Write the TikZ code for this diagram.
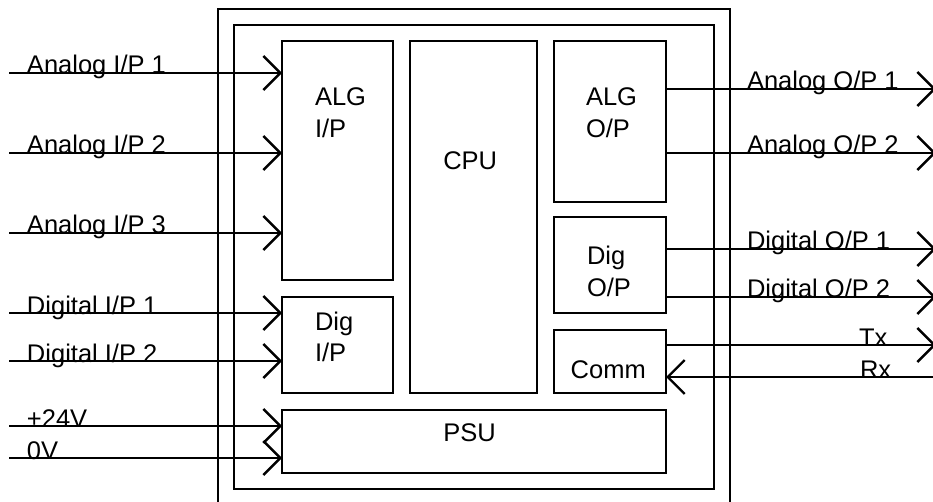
\documentclass[tikz,border=0pt]{standalone}
\usepackage{fontspec}
\setmainfont{Liberation Sans}
\usetikzlibrary{arrows.meta}
\begin{document}
\begin{tikzpicture}[x=1pt,y=-1pt,
  blk/.style={draw, line width=2.4pt, inner sep=0pt, outer sep=0pt, rectangle},
  txt/.style={inner sep=0pt, outer sep=0pt, anchor=base west, font=\fontsize{25.5}{30}\selectfont},
  wire/.style={line width=2.4pt, -{Straight Barb[length=17pt,width=34pt]}},
  plainwire/.style={line width=2.4pt}]
\useasboundingbox (0,0) rectangle (933,502);
\clip (0,0) rectangle (933,502);
% frames
\node[blk, minimum width=512pt, minimum height=511pt] (outer) at (474,264.5) {};
\node[blk, minimum width=480pt, minimum height=464pt] (inner) at (474,257) {};
% blocks
\node[blk, minimum width=111pt, minimum height=239pt] (algip) at (337.5,160.5) {};
\node[blk, minimum width=127pt, minimum height=352pt] (cpu) at (473.5,217) {};
\node[blk, minimum width=112pt, minimum height=161pt] (algop) at (610,121.5) {};
\node[blk, minimum width=111pt, minimum height=96pt] (digip) at (337.5,345) {};
\node[blk, minimum width=112pt, minimum height=96pt] (digop) at (610,265) {};
\node[blk, minimum width=112pt, minimum height=63pt] (comm) at (610,361.5) {};
\node[blk, minimum width=384pt, minimum height=63pt] (psu) at (474,441.5) {};
% block texts
\node[txt] (t1) at (315,106) {ALG};
\node[txt] (t2) at (315,137.3) {I/P};
\node[txt] (t3) at (443.3,170) {CPU};
\node[txt] (t4) at (586,105.7) {ALG};
\node[txt] (t5) at (586,138) {O/P};
\node[txt] (t6) at (315,330) {Dig};
\node[txt] (t7) at (315,361.7) {I/P};
\node[txt] (t8) at (587,265) {Dig};
\node[txt] (t9) at (587,296.7) {O/P};
\node[txt] (t10) at (570.7,378.3) {Comm};
\node[txt] (t11) at (443.3,441.7) {PSU};
% input free ends
\coordinate (i1) at (9,73);
\coordinate (i2) at (9,153);
\coordinate (i3) at (9,233);
\coordinate (i4) at (9,313);
\coordinate (i5) at (9,361);
\coordinate (i6) at (9,426);
\coordinate (i7) at (9,458);
\draw[wire] (i1) -- (i1 -| algip.west);
\draw[wire] (i2) -- (i2 -| algip.west);
\draw[wire] (i3) -- (i3 -| algip.west);
\draw[wire] (i4) -- (i4 -| digip.west);
\draw[wire] (i5) -- (i5 -| digip.west);
\draw[wire] (i6) -- (i6 -| psu.west);
\draw[wire] (i7) -- (i7 -| psu.west);
\node[txt] (l1) at (27,74) {Analog I/P 1};
\node[txt] (l2) at (27,154) {Analog I/P 2};
\node[txt] (l3) at (27,234) {Analog I/P 3};
\node[txt] (l4) at (27,314) {Digital I/P 1};
\node[txt] (l5) at (27,362) {Digital I/P 2};
\node[txt] (l6) at (27,427) {+24V};
\node[txt] (l7) at (27,459) {0V};
% output free ends
\coordinate (o1) at (936,89);
\coordinate (o2) at (936,153);
\coordinate (o3) at (936,249);
\coordinate (o4) at (936,297);
\coordinate (o5) at (936,345);
\coordinate (o6) at (936,377);
\draw[wire] (o1 -| algop.east) -- (o1);
\draw[wire] (o2 -| algop.east) -- (o2);
\draw[wire] (o3 -| digop.east) -- (o3);
\draw[wire] (o4 -| digop.east) -- (o4);
\draw[wire] (o5 -| comm.east) -- (o5);
\draw[wire] (o6) -- (o6 -| comm.east);
\node[txt] (r1) at (747,90) {Analog O/P 1};
\node[txt] (r2) at (747,154) {Analog O/P 2};
\node[txt] (r3) at (747,250) {Digital O/P 1};
\node[txt] (r4) at (747,298) {Digital O/P 2};
\node[txt] (r5) at (859,346) {Tx};
\node[txt] (r6) at (860,378) {Rx};
\end{tikzpicture}
\end{document}
